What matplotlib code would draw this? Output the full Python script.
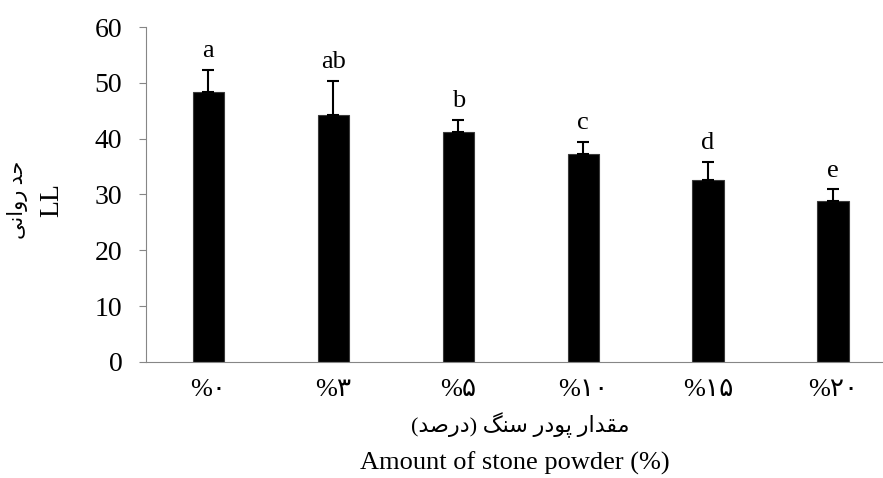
import matplotlib
matplotlib.use("Agg")
import matplotlib.pyplot as plt
import numpy as np

# data
categories = ["%\u06f0", "%\u06f3", "%\u06f5", "%\u06f1\u06f0", "%\u06f1\u06f5", "%\u06f2\u06f0"]
ll_mean = [48.3, 44.3, 41.2, 37.3, 32.6, 28.9]
ll_err = [4.0, 6.1, 2.2, 2.1, 3.2, 2.0]
groups = ["a", "ab", "b", "c", "d", "e"]

# persian text, shaped by hand (presentation forms, visual order)
xlabel_fa = ("(" + "\ufea9\ufead\ufebb\ufeaa"[::-1] + ") " +
             "\ufeb3\ufee8\ufb93"[::-1] + " " +
             "\ufb58\ufeee\ufea9\ufead"[::-1] + " " +
             "\ufee3\ufed8\ufeaa\ufe8d\ufead"[::-1])
ylabel_fa = "\ufead\ufeed\ufe8d\ufee7\ufbfd"[::-1] + " " + "\ufea3\ufeaa"[::-1]

serif = ["Liberation Serif", "DejaVu Sans"]
grey = "#868686"

fig = plt.figure(figsize=(8.83, 4.78), dpi=100)
ax = fig.add_axes([0.1653, 0.2427, 0.8347, 0.7008])

x = np.arange(len(categories))
ax.bar(x, ll_mean, width=0.25, color="black", edgecolor="#3a3a3a", linewidth=0.8, zorder=2)
ax.errorbar(x, ll_mean, yerr=[np.zeros(len(ll_err)), ll_err], fmt="none",
            ecolor="black", elinewidth=1.5, capsize=4.5, capthick=1.5, zorder=3)

for xi, m, e, g in zip(x, ll_mean, ll_err, groups):
    ax.text(xi, m + e + 2.3, g, ha="center", va="baseline", fontsize=19, family=serif)

ax.set_xlim(-0.5, 5.4)
ax.set_ylim(0, 60)
ax.set_yticks(range(0, 61, 10))
ax.set_xticks(x)
ax.set_xticklabels(categories, family=serif, fontsize=19)
for lab in ax.get_yticklabels():
    lab.set_family(serif)
    lab.set_fontsize(20)

ax.spines["top"].set_visible(False)
ax.spines["right"].set_visible(False)
ax.spines["left"].set_color(grey)
ax.spines["bottom"].set_color(grey)
ax.tick_params(axis="y", direction="out", length=5, color=grey, pad=12)
ax.tick_params(axis="x", length=0, pad=12)

fig.text(0.589, 0.111, xlabel_fa, ha="center", va="center", fontsize=16, family=serif)
fig.text(0.583, 0.031, "Amount of stone powder (%)", ha="center", va="center",
         fontsize=19, family=serif)
fig.text(0.020, 0.582, ylabel_fa, ha="center", va="center", rotation=90,
         fontsize=15, family=serif)
fig.text(0.059, 0.582, "LL", ha="center", va="center", rotation=90,
         fontsize=20, family=serif)

fig.savefig("out.png", dpi=100)
